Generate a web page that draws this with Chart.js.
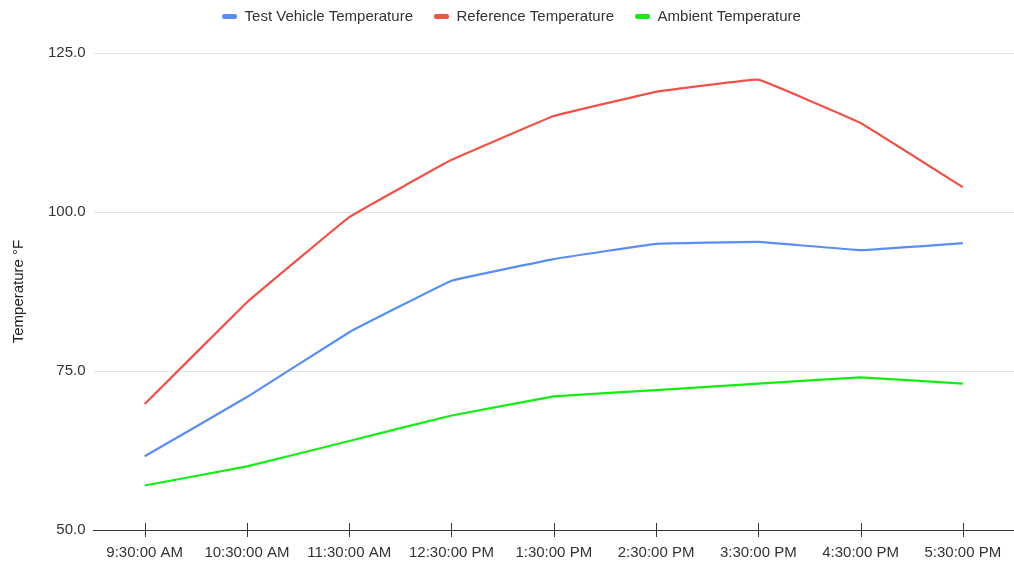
<!DOCTYPE html>
<html>
<head>
<meta charset="utf-8">
<title>Temperature chart</title>
<script src="https://cdn.jsdelivr.net/npm/chart.js@4.4.1/dist/chart.umd.min.js"></script>
<style>
	html, body { margin: 0; padding: 0; background: #fff; }
	#wrap { width: 1014px; height: 564px; }
</style>
</head>
<body>
<div id="wrap"><canvas id="tempChart"></canvas></div>
<script>
var times = ['9:30:00 AM', '10:30:00 AM', '11:30:00 AM', '12:30:00 PM', '1:30:00 PM', '2:30:00 PM', '3:30:00 PM', '4:30:00 PM', '5:30:00 PM'];
var vehicleTemp = [61.6, 70.9, 81.1, 89.2, 92.6, 95.0, 95.3, 94.0, 95.1];
var referenceTemp = [69.8, 85.8, 99.2, 108.2, 115.1, 118.9, 120.8, 114.0, 103.9];
var ambientTemp = [57, 60, 64, 68, 71, 72, 73, 74, 73];
var yTicks = [50, 75, 100, 125];

Chart.defaults.font.family = '"Liberation Sans", Arial, sans-serif';
Chart.defaults.font.size = 15;
Chart.defaults.color = '#333';

// tick marks that cross the bottom axis line
var crossTicks = {
	id: 'crossTicks',
	afterDraw: function(chart){
		var xs = chart.scales.x;
		var y = chart.chartArea.bottom;
		var ctx = chart.ctx;
		ctx.save();
		ctx.strokeStyle = '#333';
		ctx.lineWidth = 1;
		for(var i = 0; i < xs.ticks.length; i++){
			var px = Math.round(xs.getPixelForTick(i)) + 0.5;
			ctx.beginPath();
			ctx.moveTo(px, y - 7);
			ctx.lineTo(px, y + 7);
			ctx.stroke();
		}
		ctx.restore();
	}
};

// extra room under the legend
var legendGap = {
	id: 'legendGap',
	beforeInit: function(chart){
		var fit = chart.legend.fit;
		chart.legend.fit = function(){
			fit.bind(chart.legend)();
			this.height += 19;
		};
	}
};

function line(label, data, color){
	return {
		label: label,
		data: data,
		borderColor: color,
		backgroundColor: color,
		borderWidth: 2.2,
		pointRadius: 0,
		tension: 0.05,
		fill: false
	};
}

var ctx = document.getElementById('tempChart');
new Chart(ctx, {
	type: 'line',
	data: {
		labels: times,
		datasets: [
			line('Test Vehicle Temperature', vehicleTemp, '#5a8ef5'),
			line('Reference Temperature', referenceTemp, '#ee5349'),
			line('Ambient Temperature', ambientTemp, '#12ee12')
		]
	},
	options: {
		responsive: true,
		maintainAspectRatio: false,
		animation: false,
		layout: { padding: { top: -12, right: -3, bottom: -5, left: 6 } },
		plugins: {
			legend: {
				position: 'top',
				labels: {
					boxWidth: 15,
					boxHeight: 5,
					useBorderRadius: true,
					borderRadius: 2,
					padding: 21,
					color: '#333',
					generateLabels: function(chart){
						var items = Chart.defaults.plugins.legend.labels.generateLabels(chart);
						items.forEach(function(it){ it.lineWidth = 0; });
						return items;
					}
				}
			},
			tooltip: { enabled: false }
		},
		scales: {
			x: {
				offset: true,
				grid: { display: false, drawTicks: true, tickLength: 7 },
				border: { display: true, color: '#333', width: 1 },
				ticks: { maxRotation: 0, autoSkip: false, padding: 7, color: '#333' }
			},
			y: {
				min: 50,
				max: 125,
				afterBuildTicks: function(scale){
					scale.ticks = yTicks.map(function(v){ return { value: v }; });
				},
				grid: { color: '#e3e3e3', lineWidth: 1, drawTicks: false },
				border: { display: false },
				ticks: {
					padding: 8,
					color: '#333',
					callback: function(v){ return Number(v).toFixed(1); }
				},
				title: { display: true, text: 'Temperature °F', color: '#222', padding: { bottom: 12 } }
			}
		}
	},
	plugins: [crossTicks, legendGap]
});
</script>
</body>
</html>
